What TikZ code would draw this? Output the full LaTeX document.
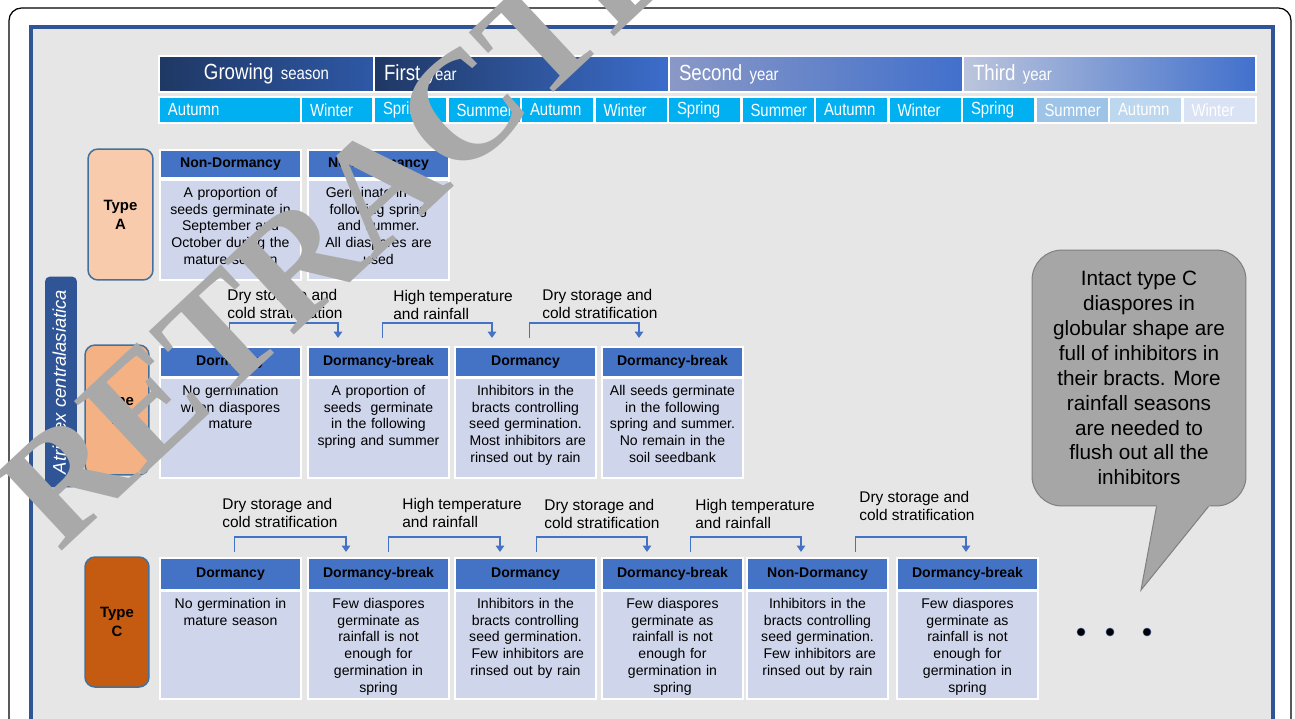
\documentclass[tikz,border=0pt]{standalone}
\usepackage{fontspec}
\setmainfont{Liberation Sans}
\newfontfamily\narrowsans[FakeStretch=0.85]{Liberation Sans}
\newfontfamily\wmserif{Liberation Serif}
\usetikzlibrary{arrows.meta,calc}
\definecolor{panelgray}{HTML}{E7E6E6}
\definecolor{frameblue}{HTML}{2F5597}
\definecolor{hdrblue}{HTML}{4472C4}
\definecolor{cellblue}{HTML}{CFD5EA}
\definecolor{ssncyan}{HTML}{00B0F0}
\definecolor{sumfade}{HTML}{9DC3E6}
\definecolor{autfade}{HTML}{BDD7EE}
\definecolor{winfade}{HTML}{DAE3F3}
\definecolor{typeA}{HTML}{F8CBAD}
\definecolor{typeB}{HTML}{F4B183}
\definecolor{typeC}{HTML}{C55A11}
\definecolor{typeedge}{HTML}{41719C}
\definecolor{notegray}{HTML}{A6A6A6}
\definecolor{noteedge}{HTML}{7F7F7F}
\definecolor{wmgray}{HTML}{A9A9A9}
\definecolor{navyL}{HTML}{1F3864}
\definecolor{navyR}{HTML}{2E58A6}
\definecolor{firstR}{HTML}{3C6DCB}
\definecolor{secondL}{HTML}{8A98C6}
\definecolor{thirdL}{HTML}{BCC5DC}
\definecolor{yearR}{HTML}{4170CC}
\newcommand{\bodyfont}{\fontsize{8}{9.6}\selectfont}
\newcommand{\condfont}{\fontsize{8.8}{10.2}\selectfont}
\tikzset{hdr/.style={anchor=north west,fill=hdrblue,draw=white,line width=0.04cm,minimum width=2.82cm,minimum height=0.56cm,inner sep=0pt,font=\bodyfont\bfseries},
  body/.style={anchor=north west,fill=cellblue,draw=white,line width=0.04cm,text width=2.7cm,align=center,inner xsep=0.06cm,inner ysep=0.14cm,text depth=1.516cm,font=\bodyfont},
  typebox/.style={rounded corners=0.2cm,draw=typeedge,line width=0.03cm,minimum width=1.28cm,minimum height=2.6cm,align=center,font=\fontsize{8.5}{10.8}\selectfont\bfseries},
  species/.style={rounded corners=0.1cm,fill=frameblue,minimum width=4.22cm,minimum height=0.64cm,text=white,font=\fontsize{10.5}{12}\selectfont\itshape},
  cond/.style={anchor=north west,align=left,inner sep=0pt,font=\condfont},
  arr/.style={draw=hdrblue,line width=0.035cm,-{Triangle[length=0.13cm,width=0.17cm]}},
  ssn/.style={anchor=north west,fill=ssncyan,draw=white,line width=0.04cm,minimum height=0.52cm,inner xsep=0.18cm,inner ysep=0pt,text width=#1,align=left,text=white,font=\narrowsans\fontsize{10}{12}\selectfont},
  ssn/.default=1.11cm,
  yr/.style={anchor=north west,draw=white,line width=0.04cm,minimum height=0.72cm,inner xsep=0.2cm,inner ysep=0pt,text width=#1,align=left,text=white,font=\narrowsans\fontsize{12.5}{14}\selectfont},
  note/.style={rounded corners=0.6cm,fill=notegray,draw=noteedge,line width=0.02cm,minimum width=4.28cm,minimum height=5.12cm,align=center,font=\fontsize{11.8}{14.2}\selectfont},
  dot/.style={circle,fill=black,draw=frameblue,line width=0.01cm,minimum size=0.16cm,inner sep=0pt}}
\begin{document}
\begin{tikzpicture}[x=0.02cm,y=0.02cm]
\useasboundingbox (0,0) rectangle (1295,-718);
\clip (0,0) rectangle (1295,-718);
\fill[white] (0,0) rectangle (1295,-718);
\draw[line width=0.025cm,rounded corners=0.25cm] (9,-8) rectangle (1291,-760);
\draw[frameblue,line width=0.09cm,fill=panelgray] (31,-27) rectangle (1273,-760);

\node[yr=3.9cm,align=center,left color=navyL,right color=navyR] (gs) at (158,-55){Growing {\fontsize{10}{12}\selectfont season}};
\node[yr=5.5cm,left color=navyL,right color=firstR] (y1) at (373,-55){First {\fontsize{10}{12}\selectfont year}};
\node[yr=5.48cm,left color=secondL,right color=yearR] (y2) at (668,-55){Second {\fontsize{10}{12}\selectfont year}};
\node[yr=5.46cm,left color=thirdL,right color=yearR] (y3) at (962,-55){Third {\fontsize{10}{12}\selectfont year}};
\node[ssn=2.48cm] (s1) at (158,-96){Autumn}; \node[ssn=1.08cm] (s2) at (300,-96){Winter};
\node[ssn] (s3) at (373,-96){Spring}; \node[ssn] (s4) at (446.5,-96){Summer};
\node[ssn] (s5) at (520,-96){Autumn}; \node[ssn] (s6) at (593.5,-96){Winter};
\node[ssn] (s7) at (667,-96){Spring}; \node[ssn] (s8) at (740.5,-96){Summer};
\node[ssn] (s9) at (814,-96){Autumn}; \node[ssn] (s10) at (887.5,-96){Winter};
\node[ssn] (s11) at (961,-96){Spring}; \node[ssn,fill=sumfade] (s12) at (1034.5,-96){Summer};
\node[ssn,fill=autfade] (s13) at (1108,-96){Autumn}; \node[ssn,fill=winfade] (s14) at (1181.5,-96){Winter};

\node[species,rotate=90] (sp) at (61,-382){Atriplex centralasiatica};
\node[typebox,fill=typeA,minimum width=1.3cm,minimum height=2.62cm] (ta) at (120.5,-214.5){Type\\A};
\node[typebox,fill=typeB] (tb) at (117,-410){Type\\B};
\node[typebox,fill=typeC] (tc) at (117,-622){Type\\C};

\node[hdr] (a1h) at (159,-149){Non-Dormancy};
\node[body] (a1b) at (159,-179){A proportion of\\seeds germinate in\\September and\\October during the\\mature season};
\node[hdr] (a2h) at (307,-149){Non-Dormancy};
\node[body] (a2b) at (307,-179){Germinate in the\\following spring\\and summer.\\All diaspores are\\used};

\node[hdr,minimum height=0.6cm] (b1h) at (159,-346){Dormancy};
\node[body] (b1b) at (159,-377){No germination\\when diaspores\\mature};
\node[hdr,minimum height=0.6cm] (b2h) at (307,-346){Dormancy-break};
\node[body] (b2b) at (307,-377){A proportion of\\seeds\ \ germinate\\in the following\\spring and summer};
\node[hdr,minimum height=0.6cm] (b3h) at (454,-346){Dormancy};
\node[body] (b3b) at (454,-377){Inhibitors in the\\bracts controlling\\seed germination.\\\ Most inhibitors are\\rinsed out by rain};
\node[hdr,minimum height=0.6cm] (b4h) at (601,-346){Dormancy-break};
\node[body] (b4b) at (601,-377){All seeds germinate\\in the following\\spring and summer.\\No remain in the\\soil seedbank};

\node[hdr,minimum height=0.64cm] (c1h) at (159,-557){Dormancy};
\node[body,text depth=1.676cm] (c1b) at (159,-590){No germination in\\mature season};
\node[hdr,minimum height=0.64cm] (c2h) at (307,-557){Dormancy-break};
\node[body,text depth=1.676cm] (c2b) at (307,-590){Few diaspores\\germinate as\\rainfall is not\\enough for\\germination in\\spring};
\node[hdr,minimum height=0.64cm] (c3h) at (454,-557){Dormancy};
\node[body,text depth=1.676cm] (c3b) at (454,-590){Inhibitors in the\\bracts controlling\\seed germination.\\\ Few inhibitors are\\rinsed out by rain};
\node[hdr,minimum height=0.64cm] (c4h) at (601,-557){Dormancy-break};
\node[body,text depth=1.676cm] (c4b) at (601,-590){Few diaspores\\germinate as\\rainfall is not\\enough for\\germination in\\spring};
\node[hdr,minimum height=0.64cm] (c5h) at (746,-557){Non-Dormancy};
\node[body,text depth=1.676cm] (c5b) at (746,-590){Inhibitors in the\\bracts controlling\\seed germination.\\\ Few inhibitors are\\rinsed out by rain};
\node[hdr,minimum height=0.64cm] (c6h) at (896,-557){Dormancy-break};
\node[body,text depth=1.676cm] (c6b) at (896,-590){Few diaspores\\germinate as\\rainfall is not\\enough for\\germination in\\spring};

\node[cond] (lb1) at (227,-289){Dry storage and\\cold stratification};
\node[cond] (lb2) at (393,-290){High temperature\\and rainfall};
\node[cond] (lb3) at (542,-289){Dry storage and\\cold stratification};
\node[cond] (lc1) at (222,-498){Dry storage and\\cold stratification};
\node[cond] (lc2) at (402,-498){High temperature\\and rainfall};
\node[cond] (lc3) at (544,-499){Dry storage and\\cold stratification};
\node[cond] (lc4) at (695,-499){High temperature\\and rainfall};
\node[cond] (lc5) at (859,-491){Dry storage and\\cold stratification};

\draw[arr] ($(b1h.north)+(-1,8)$) -- ++(0,15) -| ($(b2h.north west)+(31,8)$);
\draw[arr] ($(b2h.north)+(4,8)$) -- ++(0,15) -| ($(b3h.north west)+(38,8)$);
\draw[arr] ($(b3h.north)+(4,8)$) -- ++(0,15) -| ($(b4h.north west)+(38,8)$);
\draw[arr] ($(c1h.north)+(4,5)$) -- ++(0,15) -| ($(c2h.north west)+(39,5)$);
\draw[arr] ($(c2h.north)+(10,5)$) -- ++(0,15) -| ($(c3h.north west)+(46,5)$);
\draw[arr] ($(c3h.north)+(11,5)$) -- ++(0,15) -| ($(c4h.north west)+(46,5)$);
\draw[arr] ($(c4h.north)+(18,5)$) -- ++(0,15) -| ($(c5h.north west)+(55,5)$);
\draw[arr] ($(c5h.north)+(38,5)$) -- ++(0,15) -| ($(c6h.north west)+(70,5)$);

\node[note] (note) at (1139,-378){Intact type C\\diaspores in\\globular shape are\\full of inhibitors in\\their bracts. More\\rainfall seasons\\are needed to\\flush out all the\\inhibitors};
\coordinate (tip) at (1141,-590);
\fill[notegray] ($(note.south west)+(125.8,4)$) -- (tip) -- ($(note.south west)+(180.2,4)$) -- cycle;
\draw[noteedge,line width=0.02cm] ($(note.south west)+(125,0)$) -- (tip) -- ($(note.south west)+(177,0)$);
\node[dot] (d1) at (1081,-632){}; \node[dot] (d2) at (1110,-632){}; \node[dot] (d3) at (1147,-632){};

\node[rotate=43,inner sep=0pt,text=wmgray,font=\wmserif\bfseries\fontsize{88}{92}\selectfont] (wm) at (380,-186){RETRACTED};
\end{tikzpicture}
\end{document}
